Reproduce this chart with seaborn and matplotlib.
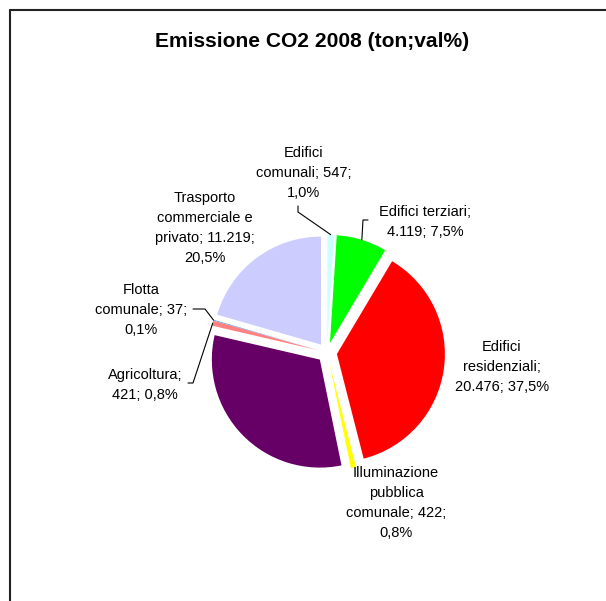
import matplotlib
matplotlib.use("Agg")
import matplotlib.pyplot as plt
import seaborn as sns
import numpy as np

# ---- data ----
categories = ["Edifici comunali", "Edifici terziari", "Edifici residenziali",
              "Illuminazione pubblica comunale", "Altro", "Agricoltura",
              "Flotta comunale", "Trasporto commerciale e privato"]
values = [547, 4119, 20476, 422, 17400, 421, 37, 11219]
label_texts = ["Edifici\ncomunali; 547;\n1,0%",
               "Edifici terziari;\n4.119; 7,5%",
               "Edifici\nresidenziali;\n20.476; 37,5%",
               "Illuminazione\npubblica\ncomunale; 422;\n0,8%",
               "",
               "Agricoltura;\n421; 0,8%",
               "Flotta\ncomunale; 37;\n0,1%",
               "Trasporto\ncommerciale e\nprivato; 11.219;\n20,5%"]
colors = ["#CCFFFF", "#00FF00", "#FF0000", "#FFFF00",
          "#660066", "#FF8080", "#0066CC", "#CCCCFF"]
title = "Emissione CO2 2008 (ton;val%)"

# ---- layout (pixel coordinates, y from top) ----
W, H = 606, 601
label_pos = [(304, 173), (425, 222), (502, 367), (396, 503),
             None, (145, 385), (141, 310), (205, 228)]
# leader line elbows (from text towards wedge)
leaders = {0: [(298, 206), (298, 212)],
           1: [(368, 220), (363, 220)],
           5: [(188, 383), (193, 383)],
           6: [(193, 309), (205, 309)]}

sns.set_theme(style="white")
plt.rcParams['font.family'] = ['Liberation Sans', 'DejaVu Sans']

fig = plt.figure(figsize=(W / 100, H / 100), dpi=100)
fig.patch.set_facecolor("white")
ax = fig.add_axes([0, 0, 1, 1])

def P(x, y):
    return x, H - y

radius = 108
center = P(327, 352.6)
explode = [10] * len(values)   # data units (pixels)

wedges, _ = ax.pie(values, colors=colors, startangle=90, counterclock=False,
                   explode=explode, radius=radius, center=center,
                   wedgeprops=dict(linewidth=0), frame=True)
ax.set_xlim(0, W)
ax.set_ylim(0, H)
ax.set_aspect("equal")
ax.axis("off")

fs = 10.5
for i, txt in enumerate(label_texts):
    if not txt:
        continue
    x, y = P(*label_pos[i])
    ax.text(x, y, txt, ha="center", va="center", fontsize=fs,
            linespacing=1.55, color="black")

for i, pts in leaders.items():
    w = wedges[i]
    ang = np.deg2rad((w.theta1 + w.theta2) / 2)
    ex = w.center[0] + w.r * np.cos(ang)
    ey = w.center[1] + w.r * np.sin(ang)
    xs = [P(*p)[0] for p in pts] + [ex]
    ys = [P(*p)[1] for p in pts] + [ey]
    ax.plot(xs, ys, color="black", lw=0.8)

ax.text(*P(312, 47), title, ha="center", va="baseline", fontsize=15.1,
        fontweight="bold", color="black")

# outer frame
ax.plot([10, 10], [0, H - 9.5], color="#222222", lw=1.5)
ax.plot([10, W], [H - 9.5, H - 9.5], color="#222222", lw=1.5)

fig.savefig("out.png", dpi=100, facecolor="white")
